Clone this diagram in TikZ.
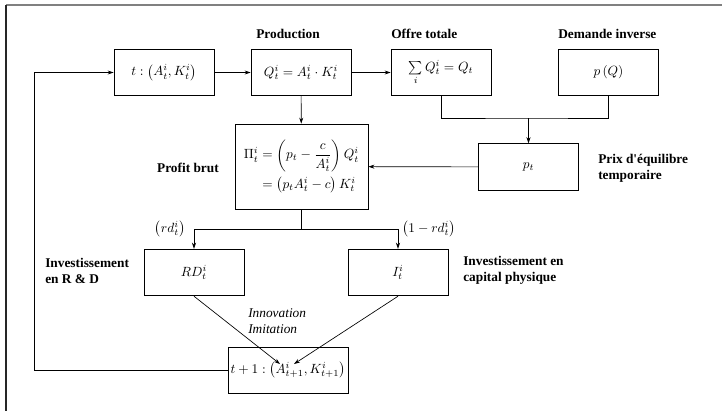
\documentclass[tikz,border=0pt]{standalone}
\usepackage{amsmath,amssymb}
\usepackage{fontspec}
\setmainfont{Liberation Serif}
\usetikzlibrary{arrows.meta,positioning,calc}

\tikzset{
	bloc/.style={draw, line width=0.6pt, minimum width=75pt, minimum height=35pt, inner sep=2pt},
	etiquette/.style={font=\bfseries, align=left, inner sep=0pt},
	fleche/.style={->, line width=0.5pt},
	trait/.style={line width=0.5pt}
}

\begin{document}
\begin{tikzpicture}[x=0.75pt, y=-0.75pt, >={Stealth[length=4.5pt,width=3pt]}]
		\useasboundingbox (0,0) rectangle (722,411);

		% Cadre
		\draw[gray, line width=1.5pt] (6,5) -- (722,5);
		\draw[black!85, line width=1pt] (6,5) -- (6,411);

		% Blocs du haut
		\node[bloc] (etat) at (164,72.5) {$t:\left(A_t^i,K_t^i\right)$};
		\node[bloc] (prod) at (301,72.5) {$Q_t^i=A_t^i\cdot K_t^i$};
		\node[bloc] (offre) at (441,72.5) {$\sum\limits_i Q_t^i=Q_t$};
		\node[bloc] (dem) at (608.5,72.5) {$p\left(Q\right)$};

		% Profit et prix
		\node[bloc, minimum width=99.75pt, minimum height=63.75pt] (profit) at (301.5,166.5)
			{$\begin{aligned}\Pi_t^i&=\left(p_t-\frac{c}{A_t^i}\right)Q_t^i\\ &=\left(p_tA_t^i-c\right)K_t^i\end{aligned}$};
		\node[bloc] (prix) at (528.5,167) {$p_t$};

		% Investissements
		\node[bloc] (rd) at (194,272.5) {$RD_t^i$};
		\node[bloc] (inv) at (398,272.5) {$I_t^i$};

		% Periode suivante
		\node[bloc, minimum height=34.5pt] (suiv) at (288,370) {$t+1:\left(A_{t+1}^i,K_{t+1}^i\right)$};

		% Points de jonction
		\coordinate (jonc) at (528.5,118);
		\coordinate (part) at (301.5,229);
		\coordinate (retour) at (34,370);
		\coordinate (cibleA) at (280,364);
		\coordinate (cibleK) at (294,364);

		% Connexions
		\draw[fleche] (etat) -- (prod);
		\draw[fleche] (prod) -- (offre);
		\draw[fleche] (prod) -- (profit);
		\draw[trait] (offre.south) |- (jonc) -| (dem.south);
		\draw[fleche] (jonc) -- (prix);
		\draw[fleche] (prix) -- (profit);
		\draw[trait] (profit.south) -- (part);
		\draw[fleche] (part) -| (rd.north);
		\draw[fleche] (part) -| (inv.north);
		\draw[fleche] (rd.south) -- (cibleA);
		\draw[fleche] (inv.south) -- (cibleK);
		\draw[fleche] (suiv.west) -- (retour) |- (etat.west);

		% Etiquettes
		\node[etiquette, anchor=west] (lprod) at (256,34) {Production};
		\node[etiquette, anchor=west] (loffre) at (391,34) {Offre totale};
		\node[etiquette, anchor=west] (ldem) at (558,34) {Demande inverse};
		\node[etiquette, anchor=east] (lprofit) at (219,168) {Profit brut};
		\node[etiquette, anchor=west] (lprix) at (598,168.5) {Prix d\textquotesingle équilibre\\temporaire};
		\node[etiquette, anchor=west] (lrd) at (45,270.5) {Investissement\\en R \& D};
		\node[etiquette, anchor=west] (linv) at (463,270.5) {Investissement en\\capital physique};
		\node[inner sep=0pt] (partrd) at (170,229) {$\left(rd_t^i\right)$};
		\node[inner sep=0pt, anchor=west] (partinv) at (402,229) {$\left(1-rd_t^i\right)$};
		\node[inner sep=0pt, anchor=west, align=left, font=\itshape] (linno) at (248,321.5) {Innovation\\Imitation};

	\end{tikzpicture}
\end{document}
